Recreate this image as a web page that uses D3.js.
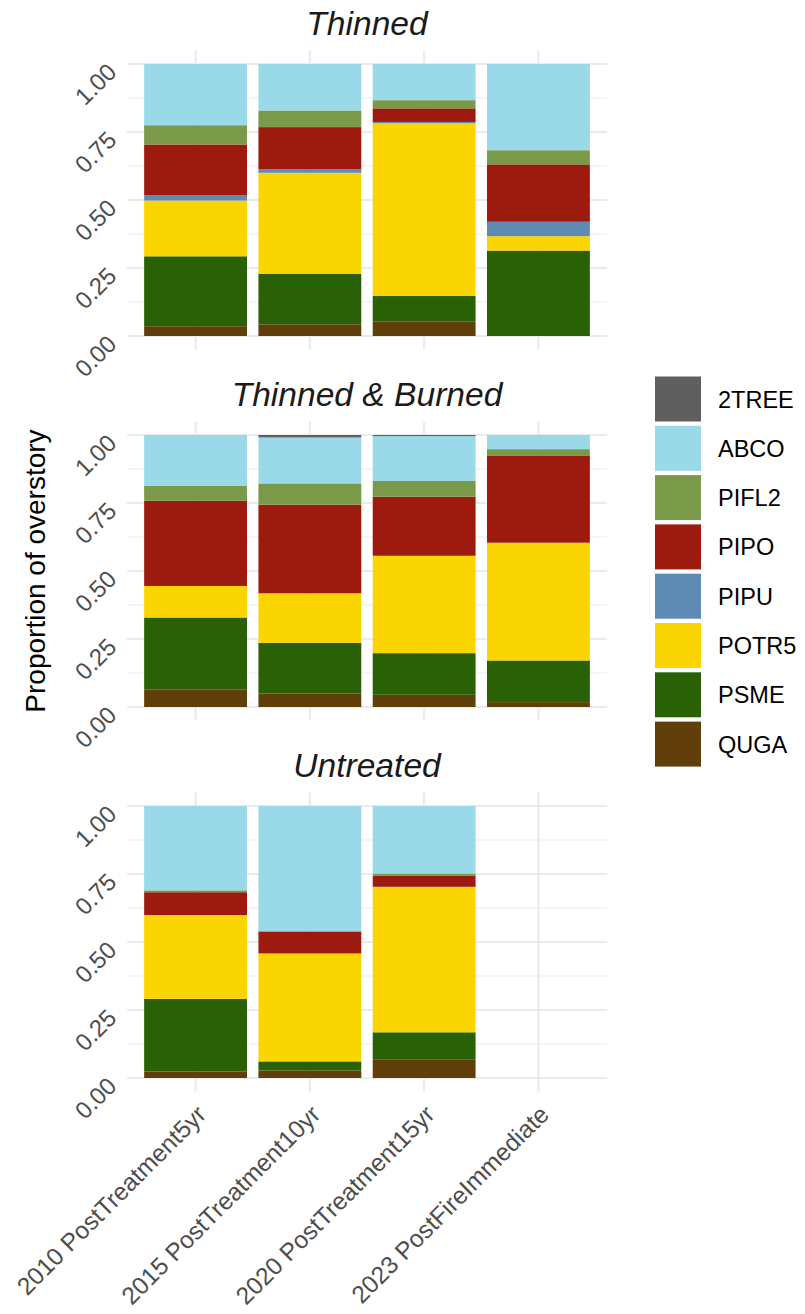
<!DOCTYPE html>
<html>
<head>
<meta charset="utf-8">
<script src="https://cdn.jsdelivr.net/npm/d3@7"></script>
<style>
  html, body { margin: 0; padding: 0; background: #ffffff; }
  svg { display: block; font-family: "Liberation Sans", Arial, sans-serif; }
</style>
</head>
<body>
<svg id="chart" width="805" height="1314"></svg>
<script>
// ---------------- data ----------------
const species = ["2TREE", "ABCO", "PIFL2", "PIPO", "PIPU", "POTR5", "PSME", "QUGA"];
const speciesColors = ["#5f5f5f", "#99d9e8", "#7a9a4a", "#9c1a0e", "#5f8ab4", "#fbd500", "#2a6106", "#613f0a"];
const timepoints = ["2010 PostTreatment5yr", "2015 PostTreatment10yr", "2020 PostTreatment15yr", "2023 PostFireImmediate"];
const treatments = ["Thinned", "Thinned & Burned", "Untreated"];
const yTicks = [0, 0.25, 0.5, 0.75, 1];

// rows follow `species`, columns follow `timepoints`
const thinned = [
  [0, 0, 0, 0],
  [0.225, 0.171, 0.133, 0.317],
  [0.071, 0.061, 0.030, 0.052],
  [0.187, 0.155, 0.050, 0.211],
  [0.019, 0.013, 0.005, 0.053],
  [0.205, 0.372, 0.635, 0.053],
  [0.257, 0.185, 0.093, 0.314],
  [0.036, 0.043, 0.054, 0]
];
const thinnedBurned = [
  [0, 0.009, 0.004, 0],
  [0.187, 0.169, 0.165, 0.052],
  [0.055, 0.078, 0.058, 0.023],
  [0.313, 0.326, 0.217, 0.321],
  [0, 0, 0, 0],
  [0.116, 0.182, 0.358, 0.433],
  [0.264, 0.186, 0.153, 0.153],
  [0.065, 0.050, 0.045, 0.018]
];
const untreated = [
  [0, 0, 0, 0],
  [0.310, 0.461, 0.248, 0],
  [0.007, 0, 0.009, 0],
  [0.084, 0.081, 0.040, 0],
  [0, 0, 0, 0],
  [0.308, 0.397, 0.535, 0],
  [0.267, 0.034, 0.099, 0],
  [0.024, 0.027, 0.069, 0]
];
const panelValues = [thinned, thinnedBurned, untreated];

// ---------------- layout ----------------
const svg = d3.select("#chart");
const panelLeft = 127, panelRight = 607;
const panelTops = [64, 435, 806];   // y of value 1.00
const panelH = 272;                 // height of 0..1
const expandPx = 13.6;

const tickColor = "#4d4d4d";
const gridColor = "#ebebeb";

const x = d3.scaleBand()
  .domain(timepoints)
  .range([panelLeft, panelRight])
  .paddingInner(0.1)
  .paddingOuter(0.15)
  .align(0.5);

const color = d3.scaleOrdinal().domain(species).range(speciesColors);
const stackKeys = species.slice().reverse(); // bottom: QUGA ... top: 2TREE

treatments.forEach((t, pi) => {
  const top = panelTops[pi];
  const y = d3.scaleLinear().domain([0, 1]).range([top + panelH, top]);
  const g = svg.append("g");

  // minor grid
  const minor = [0.125, 0.375, 0.625, 0.875];
  g.selectAll(".minor").data(minor).enter().append("line")
    .attr("x1", panelLeft).attr("x2", panelRight)
    .attr("y1", d => y(d)).attr("y2", d => y(d))
    .attr("stroke", gridColor).attr("stroke-width", 1.1);
  // major grid
  g.selectAll(".major").data(yTicks).enter().append("line")
    .attr("x1", panelLeft).attr("x2", panelRight)
    .attr("y1", d => y(d)).attr("y2", d => y(d))
    .attr("stroke", gridColor).attr("stroke-width", 2.2);
  // vertical grid
  g.selectAll(".vgrid").data(timepoints).enter().append("line")
    .attr("x1", d => x(d) + x.bandwidth() / 2).attr("x2", d => x(d) + x.bandwidth() / 2)
    .attr("y1", y(1) - expandPx).attr("y2", y(0) + expandPx)
    .attr("stroke", gridColor).attr("stroke-width", 2.2);

  // stacked bars
  const rows = timepoints.map((tp, ci) => {
    const r = { tp: tp };
    species.forEach((s, si) => { r[s] = panelValues[pi][si][ci]; });
    return r;
  });
  const series = d3.stack().keys(stackKeys)(rows);
  g.selectAll(".layer").data(series).enter().append("g")
    .attr("fill", d => color(d.key))
    .selectAll("rect").data(d => d.filter(e => e[1] - e[0] > 0)).enter().append("rect")
    .attr("x", d => x(d.data.tp))
    .attr("width", x.bandwidth())
    .attr("y", d => y(d[1]))
    .attr("height", d => y(d[0]) - y(d[1]));

  // y axis labels
  const ya = g.append("g").attr("transform", `translate(${panelLeft},0)`)
    .call(d3.axisLeft(y).tickValues(yTicks).tickFormat(d3.format(".2f")).tickSize(0));
  ya.select(".domain").remove();
  ya.selectAll("text")
    .attr("x", null).attr("dy", null)
    .attr("transform", "translate(-9,9) rotate(-45)")
    .attr("text-anchor", "end")
    .attr("fill", tickColor)
    .style("font-size", "24px")
    .style("font-family", "'Liberation Sans', Arial, sans-serif");

  // panel title
  svg.append("text")
    .attr("x", (panelLeft + panelRight) / 2)
    .attr("y", top - 29)
    .attr("text-anchor", "middle")
    .style("font-size", "33.6px")
    .style("font-style", "italic")
    .attr("fill", "#1a1a1a")
    .text(t);

  // x axis only on bottom panel
  if (pi === treatments.length - 1) {
    const xa = g.append("g").attr("transform", `translate(0,${y(0)})`)
      .call(d3.axisBottom(x).tickSize(0));
    xa.select(".domain").remove();
    xa.selectAll("text")
      .attr("y", null).attr("dy", null)
      .attr("transform", "translate(12,38) rotate(-45)")
      .attr("text-anchor", "end")
      .attr("fill", tickColor)
      .style("font-size", "24.5px")
      .style("font-family", "'Liberation Sans', Arial, sans-serif");
  }
});

// y axis title
svg.append("text")
  .attr("transform", `translate(45,${(panelTops[0] + panelTops[2] + panelH) / 2}) rotate(-90)`)
  .attr("text-anchor", "middle")
  .style("font-size", "28px")
  .attr("fill", "#000000")
  .text("Proportion of overstory");

// legend
const legendX = 655, legendTop = 376.5, keyW = 46, keyH = 45, keyStep = 49.3;
const lg = svg.append("g");
species.forEach((s, i) => {
  lg.append("rect")
    .attr("x", legendX).attr("y", legendTop + i * keyStep)
    .attr("width", keyW).attr("height", keyH)
    .attr("fill", color(s));
  lg.append("text")
    .attr("x", legendX + keyW + 17)
    .attr("y", legendTop + i * keyStep + keyH / 2 + 8.5)
    .style("font-size", "23.5px")
    .attr("fill", "#000000")
    .text(s);
});
</script>
</body>
</html>
